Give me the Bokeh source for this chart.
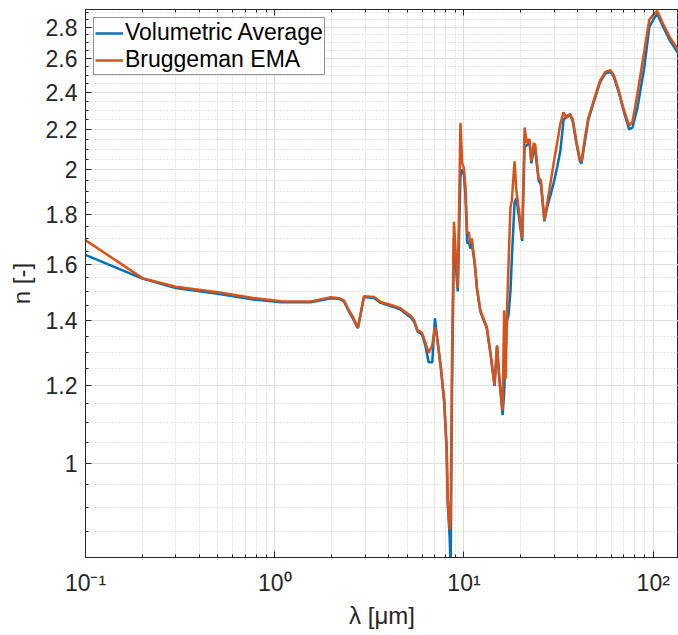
from bokeh.plotting import figure
from bokeh.models import FixedTicker, LogAxis, Legend, LegendItem
from bokeh.embed import file_html
from bokeh.resources import INLINE

# ---------------- data ----------------
wavelength_um = [0.1, 0.2, 0.3, 0.5, 0.77, 1.08, 1.55, 1.98, 2.2, 2.32, 2.46, 2.6, 2.75, 2.96,
                 3.35, 3.63, 4.24, 4.61, 5.25, 5.46, 5.68, 6.0, 6.25, 6.5, 6.8, 7.02, 7.2, 7.55,
                 7.86, 8.1, 8.2, 8.4, 8.5, 8.65, 8.85, 9.27, 9.58, 9.78, 9.98, 10.18, 10.4, 10.6,
                 10.8, 11.0, 11.3, 11.5, 11.7, 12.2, 13.2, 13.8, 14.5, 14.95, 15.4, 16.0, 16.3,
                 16.6, 16.9, 17.2, 17.6, 17.9, 18.5, 18.9, 19.5, 20.3, 20.9, 21.5, 22.2, 22.7,
                 23.4, 23.8, 24.8, 25.5, 26.6, 27.5, 28.8, 30.0, 31.2, 32.3, 33.6, 34.9, 36.4,
                 37.6, 39.4, 41.0, 41.8, 43.6, 45.4, 48.3, 52.4, 55.8, 59.4, 61.9, 65.8, 70.1,
                 74.6, 77.7, 82.7, 89.8, 95.3, 101, 105, 113, 123, 136]

n_volumetric = [1.635, 1.546, 1.512, 1.492, 1.472, 1.462, 1.462, 1.476, 1.473, 1.465, 1.432, 1.405,
                1.375, 1.480, 1.477, 1.460, 1.446, 1.437, 1.410, 1.395, 1.365, 1.355, 1.320, 1.269,
                1.269, 1.408, 1.350, 1.250, 1.155, 1.030, 0.910, 0.840, 0.780, 1.200, 1.700, 1.500,
                1.970, 2.000, 1.980, 1.880, 1.680, 1.690, 1.660, 1.680, 1.620, 1.570, 1.510, 1.430,
                1.375, 1.295, 1.200, 1.318, 1.214, 1.120, 1.180, 1.300, 1.400, 1.420, 1.500, 1.620,
                1.850, 1.870, 1.790, 1.690, 2.110, 2.120, 2.130, 2.030, 2.100, 2.090, 1.950, 1.930,
                1.770, 1.830, 1.890, 1.950, 2.020, 2.090, 2.250, 2.270, 2.280, 2.240, 2.120, 2.040,
                2.030, 2.140, 2.250, 2.340, 2.460, 2.510, 2.520, 2.490, 2.400, 2.290, 2.200, 2.210,
                2.320, 2.550, 2.800, 2.860, 2.890, 2.800, 2.710, 2.630]

n_bruggeman = [1.693, 1.548, 1.517, 1.497, 1.477, 1.466, 1.465, 1.480, 1.476, 1.468, 1.436, 1.410,
               1.377, 1.483, 1.480, 1.463, 1.450, 1.442, 1.415, 1.400, 1.369, 1.360, 1.330, 1.297,
               1.321, 1.379, 1.347, 1.254, 1.160, 1.038, 0.923, 0.854, 0.880, 1.300, 1.768, 1.512,
               2.234, 2.030, 2.010, 1.920, 1.720, 1.725, 1.680, 1.700, 1.627, 1.577, 1.515, 1.435,
               1.379, 1.297, 1.202, 1.321, 1.216, 1.133, 1.435, 1.220, 1.450, 1.600, 1.830, 1.860,
               2.040, 1.905, 1.820, 1.700, 2.210, 2.130, 2.150, 2.040, 2.130, 2.120, 1.960, 1.950,
               1.775, 1.847, 1.950, 2.050, 2.140, 2.230, 2.290, 2.260, 2.280, 2.250, 2.130, 2.050,
               2.040, 2.160, 2.260, 2.350, 2.470, 2.520, 2.530, 2.500, 2.410, 2.300, 2.220, 2.240,
               2.400, 2.650, 2.850, 2.890, 2.910, 2.820, 2.730, 2.650]

x_major_ticks = [0.1, 1, 10, 100]
x_major_labels = ["10\u207b\u00b9", "10\u2070", "10\u00b9", "10\u00b2"]
x_minor_ticks = [0.2, 0.3, 0.4, 0.5, 0.6, 0.7, 0.8, 0.9, 2, 3, 4, 5, 6, 7, 8, 9,
                 20, 30, 40, 50, 60, 70, 80, 90]
y_major_ticks = [1.0, 1.2, 1.4, 1.6, 1.8, 2.0, 2.2, 2.4, 2.6, 2.8]
y_major_labels = ["1", "1.2", "1.4", "1.6", "1.8", "2", "2.2", "2.4", "2.6", "2.8"]
y_minor_ticks = [0.8, 0.85, 0.9, 0.95, 1.05, 1.1, 1.15, 1.25, 1.3, 1.35, 1.45, 1.5, 1.55,
                 1.65, 1.7, 1.75, 1.85, 1.9, 1.95, 2.05, 2.1, 2.15, 2.25, 2.3, 2.35, 2.45,
                 2.5, 2.55, 2.65, 2.7, 2.75, 2.85, 2.9]

series_names = ["Volumetric Average", "Bruggeman EMA"]
series_colors = ["#0072BD", "#D95319"]

# ---------------- figure ----------------
FONT = "Liberation Sans"
AX = "#262626"

p = figure(width=678, height=635, x_axis_type="log", y_axis_type="log",
           x_range=(0.1, 136), y_range=(0.8, 2.92),
           output_backend="svg", toolbar_location=None,
           min_border_left=85, min_border_right=0, min_border_top=9, min_border_bottom=78)
p.background_fill_color = "white"
p.border_fill_color = "white"
p.outline_line_color = AX
p.outline_line_width = 1

xt = FixedTicker(ticks=x_major_ticks, minor_ticks=x_minor_ticks)
yt = FixedTicker(ticks=y_major_ticks, minor_ticks=y_minor_ticks)
p.xaxis.ticker = xt
p.yaxis.ticker = yt
p.xaxis.major_label_overrides = dict(zip(x_major_ticks, x_major_labels))
p.yaxis.major_label_overrides = dict(zip(y_major_ticks, y_major_labels))

for ax in (p.xaxis, p.yaxis):
    ax.axis_line_color = AX
    ax.major_tick_line_color = AX
    ax.minor_tick_line_color = AX
    ax.major_tick_in = 6
    ax.major_tick_out = 0
    ax.minor_tick_in = 3
    ax.minor_tick_out = 0
    ax.major_label_text_font = FONT
    ax.major_label_text_font_size = "23px"
    ax.major_label_text_color = AX
    ax.axis_label_text_font = FONT
    ax.axis_label_text_font_size = "24px"
    ax.axis_label_text_font_style = "normal"
    ax.axis_label_text_color = AX

p.xaxis.major_label_standoff = 12
p.yaxis.major_label_standoff = 8
p.xaxis.axis_label = "\u03bb [\u03bcm]"
p.yaxis.axis_label = "n [-]"
p.xaxis.axis_label_standoff = 3
p.yaxis.axis_label_standoff = 8

top_axis = LogAxis(ticker=xt, major_label_text_font_size="1px", major_label_text_alpha=0.0,
                   major_label_standoff=0, axis_line_color=AX, major_tick_line_color=AX,
                   minor_tick_line_color=AX, major_tick_in=6, major_tick_out=0,
                   minor_tick_in=3, minor_tick_out=0)
p.add_layout(top_axis, "above")

for g in (p.xgrid, p.ygrid):
    g.grid_line_color = "#dedede"
    g.grid_line_width = 1
    g.minor_grid_line_color = "#cfcfcf"
    g.minor_grid_line_dash = "1 2"
    g.minor_grid_line_width = 1

r1 = p.line(wavelength_um, n_volumetric, line_color=series_colors[0], line_width=2.5)
r2 = p.line(wavelength_um, n_bruggeman, line_color=series_colors[1], line_width=2.5)

legend = Legend(items=[LegendItem(label=series_names[0], renderers=[r1]),
                       LegendItem(label=series_names[1], renderers=[r2])],
                location="top_left", margin=8, padding=1, spacing=-6,
                glyph_width=28, glyph_height=22, label_height=22, label_standoff=2,
                label_text_font=FONT, label_text_font_size="23px", label_text_color="black",
                border_line_color=AX, border_line_width=1, background_fill_color="white",
                background_fill_alpha=1.0)
p.add_layout(legend)

open("out.html", "w").write(file_html(p, INLINE))
